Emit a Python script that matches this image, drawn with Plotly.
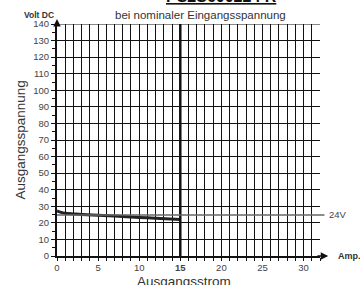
import plotly.graph_objects as go

# Data
current_a = [0, 0.5, 1, 2, 3, 5, 7, 10, 12, 15]
voltage_v = [27.2, 26.3, 25.8, 25.4, 25.1, 24.6, 24.1, 23.3, 22.8, 22.0]
nominal_v = 24.8
x_ticks = [0, 5, 10, 15, 20, 25, 30]
x_tick_text = ["0", "5", "10", "<b>15</b>", "20", "25", "30"]
y_ticks = list(range(0, 150, 10))

FONT = "Arial, Liberation Sans, sans-serif"

fig = go.Figure()

fig.add_trace(go.Scatter(
    x=current_a, y=voltage_v, mode="lines",
    line=dict(color="#222222", width=3, shape="spline"),
    showlegend=False, hoverinfo="skip"))

fig.update_layout(
    width=360, height=285,
    margin=dict(l=57, r=40, t=24, b=29),
    paper_bgcolor="white", plot_bgcolor="white",
    font=dict(family=FONT, color="#333333"),
    xaxis=dict(
        range=[0, 32], tickvals=x_ticks, ticktext=x_tick_text,
        showgrid=True, gridcolor="#111111", gridwidth=1,
        ticks="", tickfont=dict(size=9.5, color="#444444"),
        showline=True, linecolor="#111111", linewidth=2,
        zeroline=False, ticklabelstandoff=2, automargin=False,
        minor=dict(dtick=1, tick0=0, showgrid=True, gridcolor="#111111",
                   gridwidth=1, ticks="outside", ticklen=3, tickcolor="#111111"),
    ),
    yaxis=dict(
        range=[0, 140], tickvals=y_ticks,
        showgrid=True, gridcolor="#111111", gridwidth=1,
        ticks="outside", ticklen=4, tickcolor="#111111",
        tickfont=dict(size=9.5, color="#444444"),
        showline=True, linecolor="#111111", linewidth=2,
        zeroline=False, automargin=False,
        minor=dict(dtick=5, tick0=0, showgrid=False,
                   ticks="outside", ticklen=3, tickcolor="#111111"),
    ),
)

# thick line at 15 A
fig.add_shape(type="line", x0=15, x1=15, y0=0, y1=140, xref="x", yref="y",
              line=dict(color="#111111", width=2.5))
fig.add_shape(type="line", x0=0, x1=32, y0=140, y1=140, xref="x", yref="y",
              line=dict(color="#111111", width=1))

# nominal 24V line (grey, extends beyond grid)
fig.add_shape(type="line", x0=0, x1=1.017, y0=nominal_v, y1=nominal_v,
              xref="paper", yref="y",
              line=dict(color="#666666", width=1.5))
fig.add_annotation(x=1.026, y=nominal_v, xref="paper", yref="y",
                   text="24V", showarrow=False, xanchor="left", yanchor="middle",
                   font=dict(size=9.5, color="#444444", family=FONT))

# axis arrows
fig.add_annotation(x=33.0, y=0, ax=31.5, ay=0, xref="x", yref="y",
                   axref="x", ayref="y", text="", showarrow=True,
                   arrowhead=2, arrowsize=1, arrowwidth=1.5, arrowcolor="#111111")
fig.add_annotation(x=0, y=143, ax=0, ay=139, xref="x", yref="y",
                   axref="x", ayref="y", text="", showarrow=True,
                   arrowhead=2, arrowsize=1, arrowwidth=1.5, arrowcolor="#111111")

fig.add_annotation(x=1.06, y=0, xref="paper", yref="y", text="<b>Amp.</b>",
                   showarrow=False, xanchor="left", yanchor="middle",
                   font=dict(size=9, color="#333333", family=FONT))
fig.add_annotation(x=-0.002, y=1.039, xref="paper", yref="paper",
                   text="<b>Volt DC</b>", showarrow=False,
                   xanchor="right", yanchor="middle",
                   font=dict(size=8.5, color="#333333", family=FONT))

# titles
fig.add_annotation(x=0.625, y=1.075, xref="paper", yref="paper",
                   text="<b><u>PS2S600224 R</u></b>", showarrow=False,
                   xanchor="center", yanchor="bottom",
                   font=dict(size=16, color="#111111", family=FONT))
fig.add_annotation(x=0.544, y=1.039, xref="paper", yref="paper",
                   text="bei nominaler Eingangsspannung", showarrow=False,
                   xanchor="center", yanchor="middle",
                   font=dict(size=11.5, color="#333333", family=FONT))
fig.add_annotation(x=0.483, y=-0.108, xref="paper", yref="paper",
                   text="Ausgangsstrom", showarrow=False,
                   xanchor="center", yanchor="middle",
                   font=dict(size=13.5, color="#333333", family=FONT))
fig.add_annotation(x=-0.137, y=0.502, xref="paper", yref="paper",
                   text="Ausgangsspannung", showarrow=False, textangle=-90,
                   xanchor="center", yanchor="middle",
                   font=dict(size=13.5, color="#333333", family=FONT))

fig.write_html("out.html", config={"displayModeBar": False},
               post_script="document.body.style.margin='0';document.body.style.overflow='hidden';")
